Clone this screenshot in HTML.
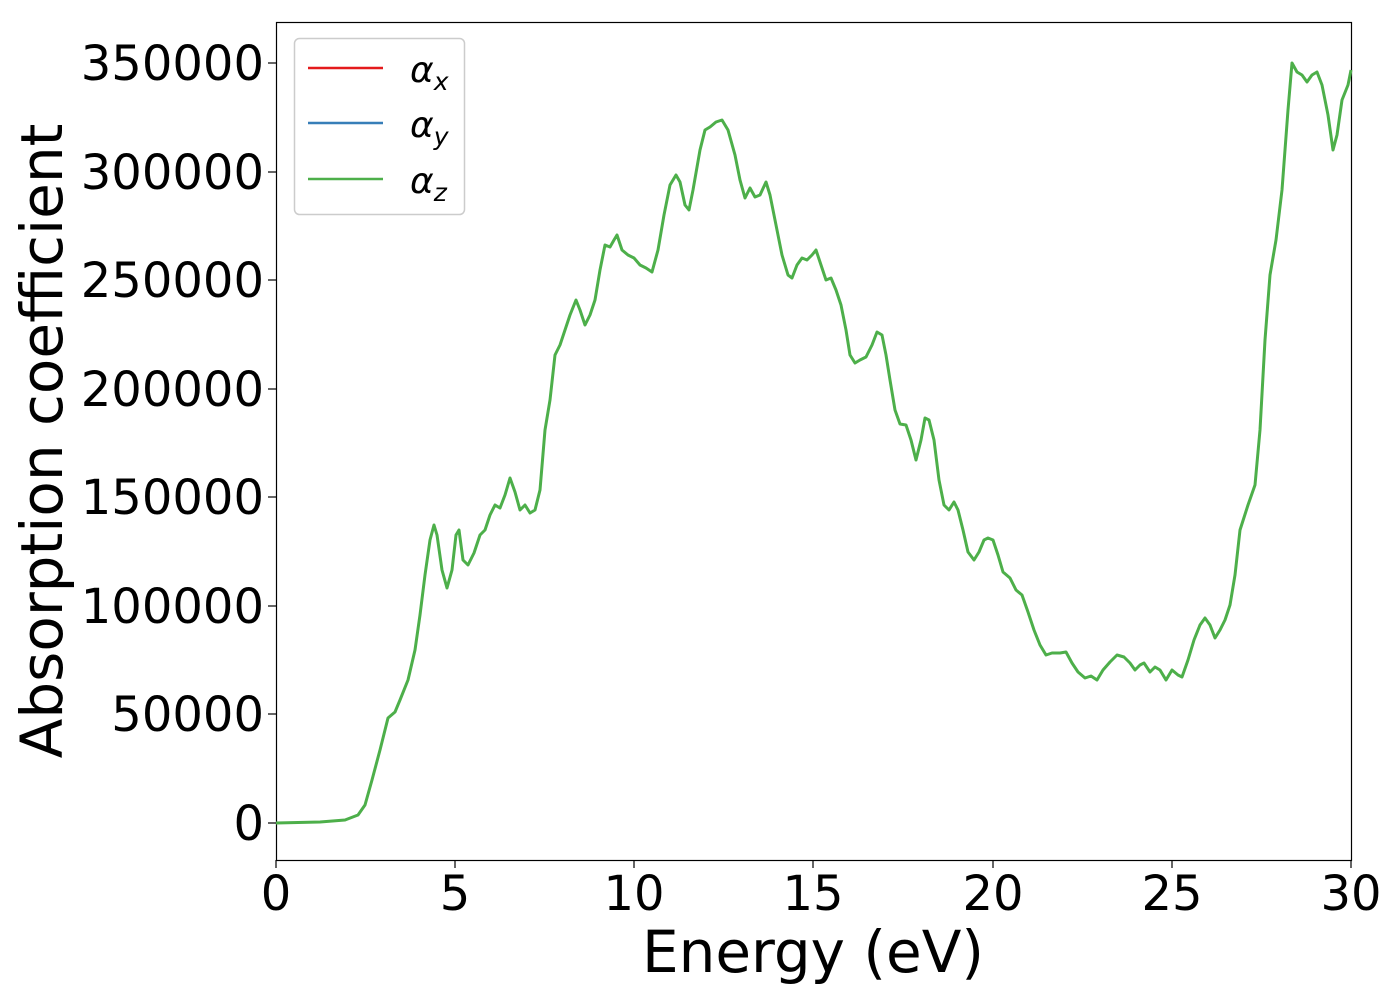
<!DOCTYPE html>
<html><head><style>body{margin:0;background:#fff}svg{display:block}</style></head><body>
<svg width="1400" height="1000" xmlns="http://www.w3.org/2000/svg" font-family="DejaVu Sans, Liberation Sans, sans-serif">
<rect width="1400" height="1000" fill="#fff"/>
<g stroke="#000" stroke-width="1.2">
<rect x="276.5" y="22.5" width="1075" height="838" fill="none"/>
<line x1="276" y1="860" x2="276" y2="868"/><line x1="455" y1="860" x2="455" y2="868"/><line x1="634" y1="860" x2="634" y2="868"/><line x1="813" y1="860" x2="813" y2="868"/><line x1="993" y1="860" x2="993" y2="868"/><line x1="1172" y1="860" x2="1172" y2="868"/><line x1="1351" y1="860" x2="1351" y2="868"/>
<line x1="268" y1="823" x2="276" y2="823"/><line x1="268" y1="714" x2="276" y2="714"/><line x1="268" y1="606" x2="276" y2="606"/><line x1="268" y1="497" x2="276" y2="497"/><line x1="268" y1="389" x2="276" y2="389"/><line x1="268" y1="280" x2="276" y2="280"/><line x1="268" y1="172" x2="276" y2="172"/><line x1="268" y1="63" x2="276" y2="63"/>
</g>
<g font-size="48" text-anchor="middle">
<text x="276" y="910">0</text><text x="455" y="910">5</text><text x="634" y="910">10</text><text x="813" y="910">15</text><text x="993" y="910">20</text><text x="1172" y="910">25</text><text x="1351" y="910">30</text>
</g>
<g font-size="48" text-anchor="end">
<text x="264" y="840">0</text><text x="264" y="731">50000</text><text x="264" y="623">100000</text><text x="264" y="514">150000</text><text x="264" y="406">200000</text><text x="264" y="297">250000</text><text x="264" y="189">300000</text><text x="264" y="80">350000</text>
</g>
<text x="813" y="972" font-size="58" text-anchor="middle">Energy (eV)</text>
<text transform="translate(62,441) rotate(-90)" font-size="58" text-anchor="middle">Absorption coefficient</text>
<polyline fill="none" stroke="#4daf4a" stroke-width="3" stroke-linejoin="round" points="276,823 320,822 345,820 358,815 365,805 372,780 380,750 388,718 395,712 400,700 408,680 415,650 420,615 425,575 430,540 434,525 437,535 442,570 447,588 452,570 456,535 459,530 463,560 468,565 474,553 480,535 485,530 490,515 495,505 500,508 505,495 510,478 515,492 520,510 525,505 530,513 535,510 540,490 545,430 550,400 555,355 560,345 565,330 570,315 576,300 580,310 585,325 590,315 595,300 600,270 605,245 610,247 614,240 617,235 622,250 628,255 634,258 640,265 646,268 652,272 658,250 664,215 670,185 676,175 680,182 685,205 689,210 693,190 700,150 705,130 710,127 716,122 722,120 728,130 735,155 740,180 745,198 750,188 755,197 760,195 766,182 770,195 776,225 782,255 788,275 792,278 797,265 802,258 807,260 812,255 816,250 821,265 826,280 831,278 836,290 841,305 846,330 850,355 855,363 860,360 866,357 872,345 877,332 882,335 886,355 890,380 895,410 900,424 906,425 911,440 916,460 921,440 925,418 929,420 934,440 939,480 944,505 949,510 954,502 958,510 963,530 968,552 974,560 979,552 984,540 988,538 993,540 998,555 1003,572 1010,578 1016,590 1022,595 1028,612 1034,630 1040,645 1046,655 1052,653 1060,653 1066,652 1072,663 1078,672 1085,678 1091,676 1097,680 1103,670 1110,662 1117,655 1124,657 1130,663 1135,670 1140,665 1144,663 1150,672 1155,667 1160,670 1166,680 1172,670 1178,675 1182,677 1188,660 1194,640 1200,625 1205,618 1210,625 1215,638 1220,630 1225,620 1230,605 1235,575 1240,530 1248,505 1255,485 1260,430 1265,340 1270,275 1276,240 1282,190 1288,110 1292,63 1297,72 1302,75 1307,82 1312,75 1317,72 1322,85 1328,115 1333,150 1337,135 1342,100 1348,85 1351,70"/>
<rect x="294.5" y="38.5" width="170" height="176" rx="5" fill="#fff" stroke="#ccc" stroke-width="1.5"/>
<line x1="308" y1="68" x2="383" y2="68" stroke="#e41a1c" stroke-width="2.5"/>
<line x1="308" y1="123" x2="383" y2="123" stroke="#377eb8" stroke-width="2.5"/>
<line x1="308" y1="179" x2="383" y2="179" stroke="#4daf4a" stroke-width="2.5"/>
<g font-size="36" font-style="italic">
<text x="410" y="82">α<tspan font-size="25" dy="8">x</tspan></text>
<text x="410" y="137">α<tspan font-size="25" dy="8">y</tspan></text>
<text x="410" y="193">α<tspan font-size="25" dy="8">z</tspan></text>
</g>
</svg>
</body></html>
